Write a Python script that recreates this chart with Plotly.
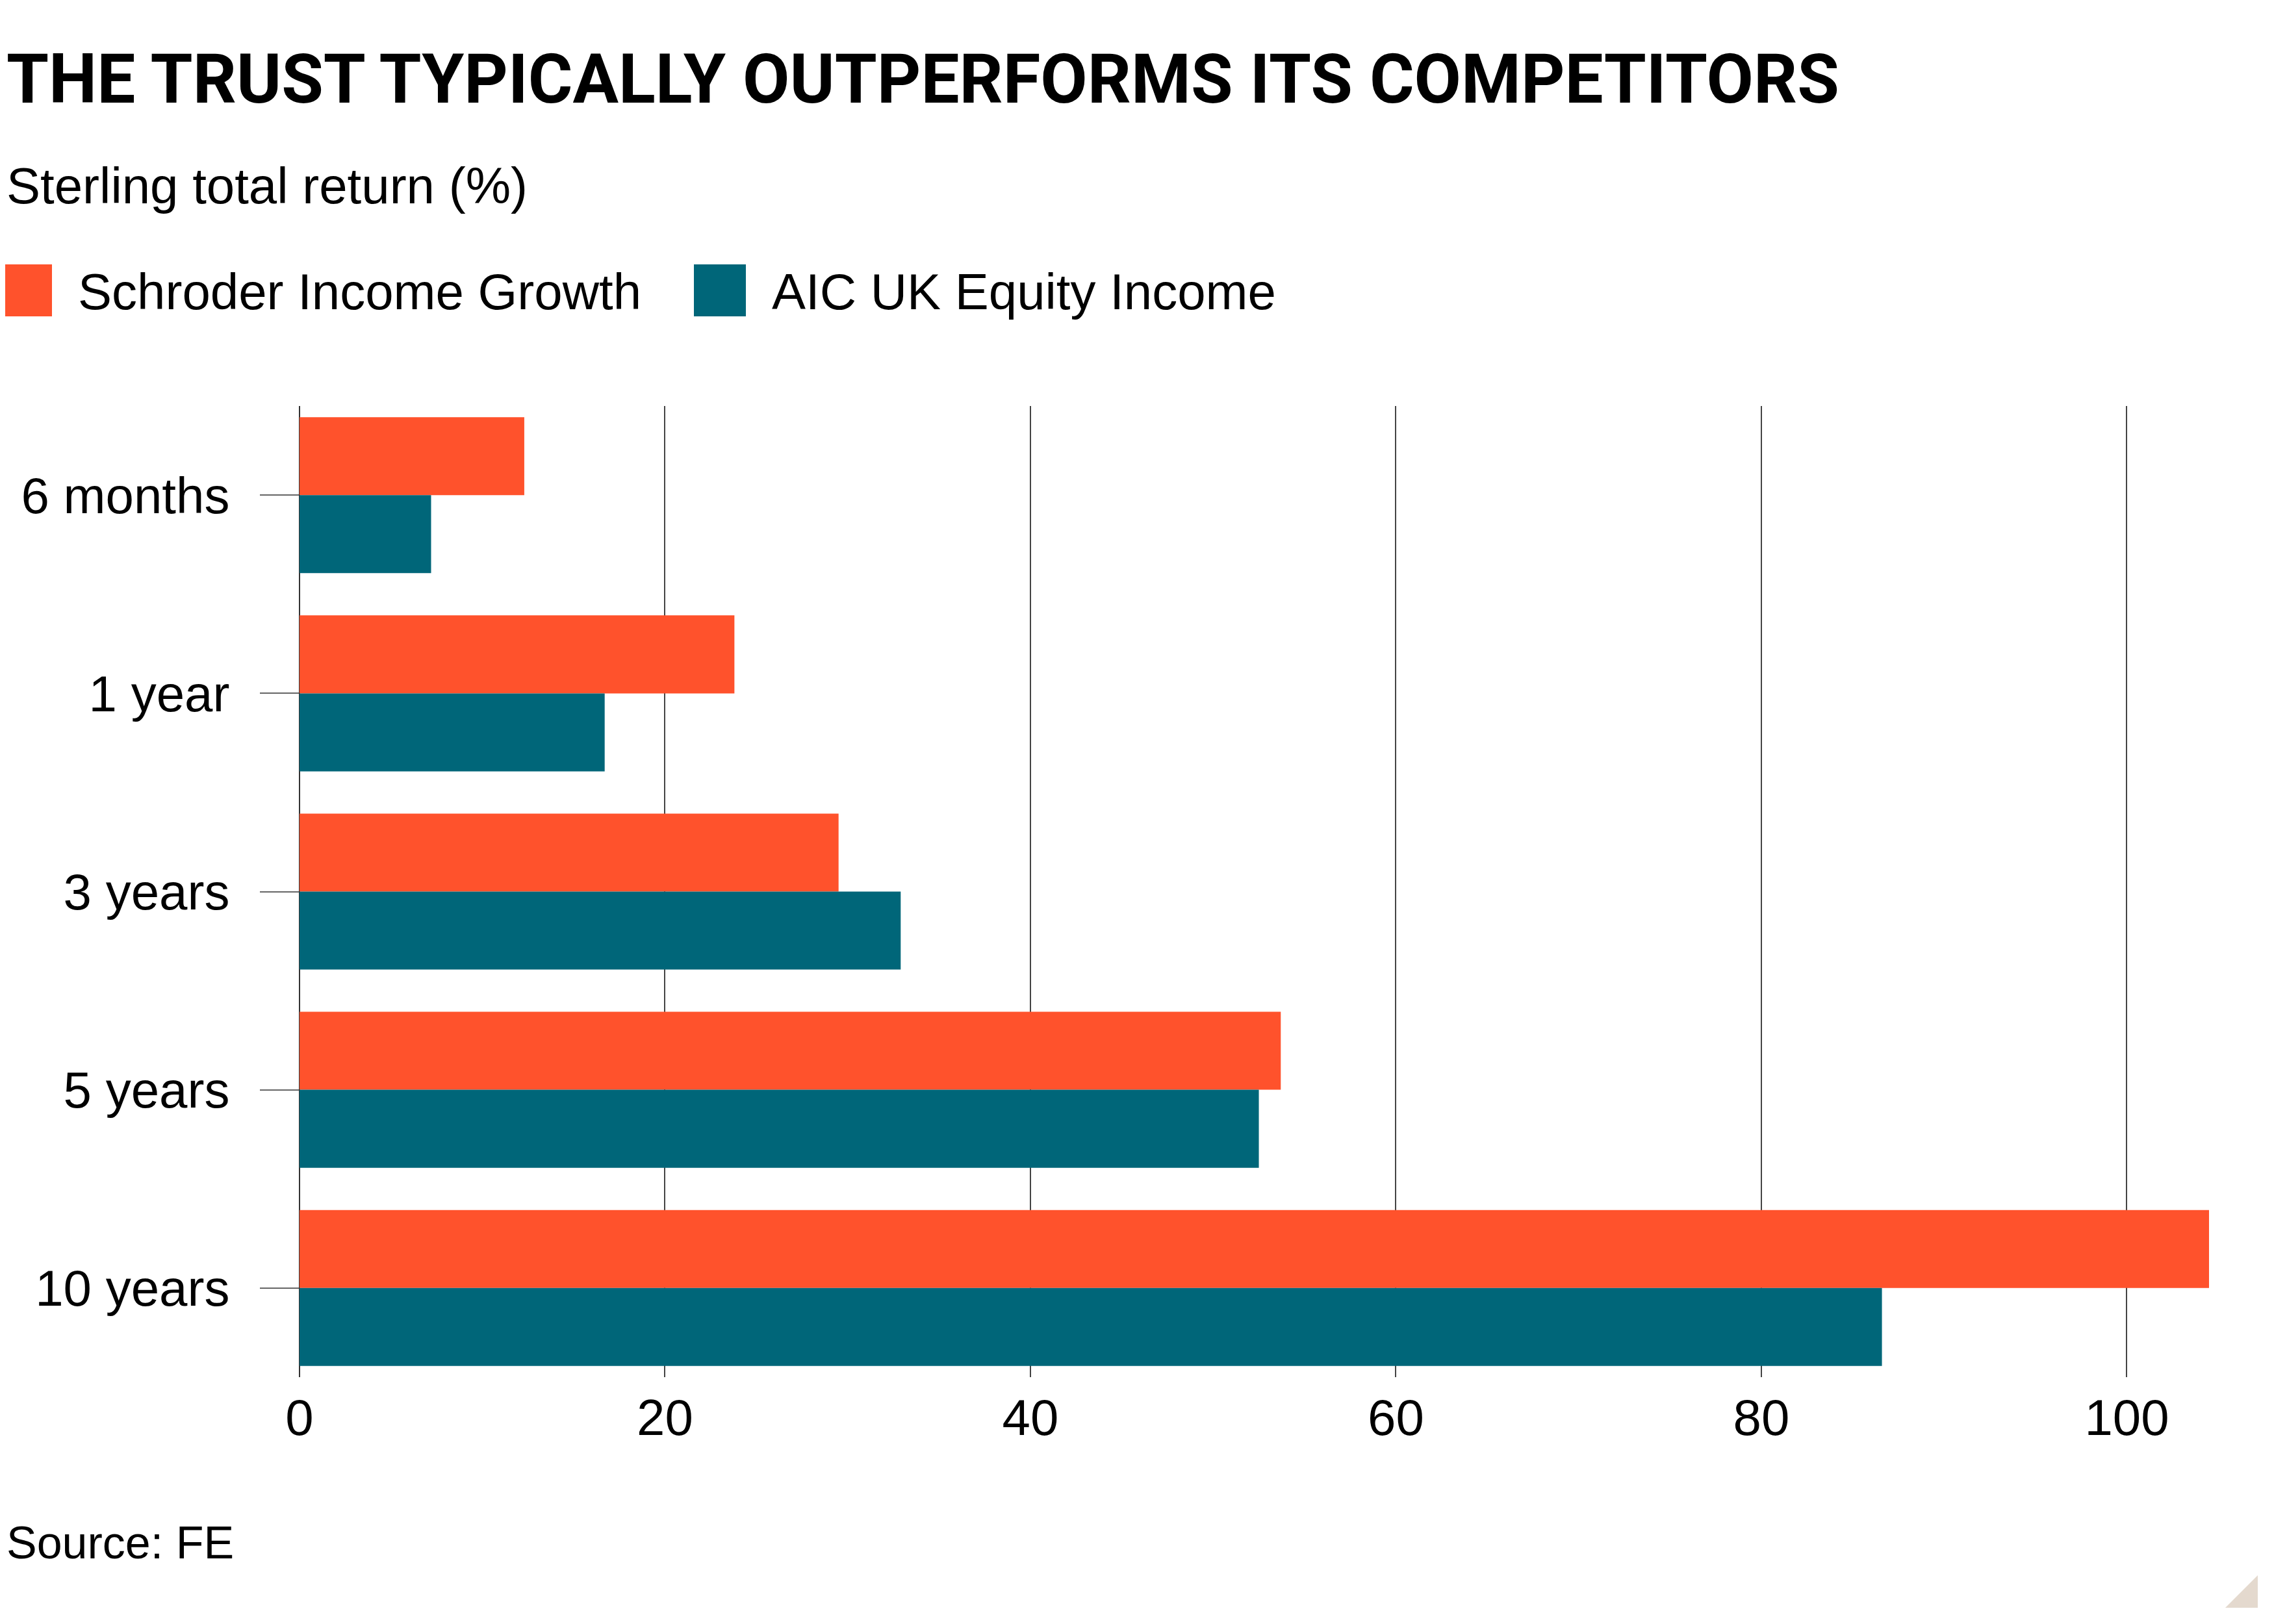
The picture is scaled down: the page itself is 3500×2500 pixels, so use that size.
import plotly.graph_objects as go

# data
periods = ['6 months', '1 year', '3 years', '5 years', '10 years']
schroder = [12.3, 23.8, 29.5, 53.7, 104.5]
aic = [7.2, 16.7, 32.9, 52.5, 86.6]
series_names = ['Schroder Income Growth', 'AIC UK Equity Income']
series_colors = ['#FF522C', '#006679']
x_ticks = [0, 20, 40, 60, 80, 100]

title_text = 'THE TRUST TYPICALLY OUTPERFORMS ITS COMPETITORS'
subtitle_text = 'Sterling total return (%)'
source_text = 'Source: FE'

FONT = 'Liberation Sans, Arial'
TITLE_FONT = 'Roboto, Liberation Sans'

# canvas; the page puts the figure 8px in from the corner, so pull everything back
W, H = 3500, 2500
OFF = 8
L, R, T, B = 461 - OFF, 100 + OFF, 625 - OFF, 380 + OFF


def px(x):
    """reference pixel x -> paper x"""
    return (max(x - OFF, 0) - L) / (W - L - R)


def py(y):
    """reference pixel y (from top) -> paper y"""
    return (H - B - (y - OFF)) / (H - T - B)


fig = go.Figure()
for name, vals, color in zip(series_names, [schroder, aic], series_colors):
    fig.add_trace(
        go.Bar(
            y=periods,
            x=vals,
            name=name,
            orientation='h',
            marker={'color': color, 'line': {'width': 0}},
            showlegend=False,
        )
    )

annotations = [
    dict(text=f'<b>{title_text}</b>', x=px(0), y=py(123), xanchor='left', yanchor='middle',
         font={'size': 105, 'color': '#000000', 'family': TITLE_FONT}),
    dict(text=subtitle_text, x=px(0), y=py(286), xanchor='left', yanchor='middle',
         font={'size': 78, 'color': '#000000'}),
    dict(text=source_text, x=px(0), y=py(2375), xanchor='left', yanchor='middle',
         font={'size': 70, 'color': '#000000'}),
]
shapes = []

# hand-drawn legend with big squares
legend_x = [0, 1068]
for lx, name, color in zip(legend_x, series_names, series_colors):
    shapes.append(dict(type='rect', xref='paper', yref='paper',
                       x0=px(lx), x1=px(lx + 80), y0=py(487), y1=py(407),
                       fillcolor=color, line={'width': 0}))
    annotations.append(dict(text=name, x=px(lx + 118), y=py(449), xanchor='left', yanchor='middle',
                            font={'size': 78, 'color': '#000000'}))

# corner triangle
shapes.append(dict(type='path', xref='paper', yref='paper',
                   path=f'M {px(3425)},{py(2475)} L {px(3475)},{py(2475)} L {px(3475)},{py(2425)} Z',
                   fillcolor='#E4D9CE', line={'width': 0}))

for a in annotations:
    a.update(xref='paper', yref='paper', showarrow=False)

fig.update_layout(
    width=W,
    height=H,
    margin={'l': L, 'r': R, 't': T, 'b': B},
    paper_bgcolor='#FFFFFF',
    plot_bgcolor='#FFFFFF',
    font={'family': FONT, 'color': '#000000'},
    barmode='group',
    bargap=0.213,
    bargroupgap=0,
    annotations=annotations,
    shapes=shapes,
    showlegend=False,
)

fig.update_xaxes(
    range=[0, 104.5],
    tickvals=x_ticks,
    showgrid=True,
    gridcolor='#444444',
    gridwidth=1.6,
    zeroline=True,
    zerolinecolor='#333333',
    zerolinewidth=2,
    showline=False,
    ticks='',
    tickfont={'size': 78, 'color': '#000000'},
    ticklabelstandoff=10,
)

fig.update_yaxes(
    categoryorder='array',
    categoryarray=periods,
    range=[4.45, -0.45],
    showgrid=False,
    zeroline=False,
    showline=False,
    ticks='outside',
    ticklen=60,
    tickwidth=2,
    tickcolor='#666666',
    tickfont={'size': 78, 'color': '#000000'},
    ticklabelstandoff=31,
)

fig.write_html('out.html')
